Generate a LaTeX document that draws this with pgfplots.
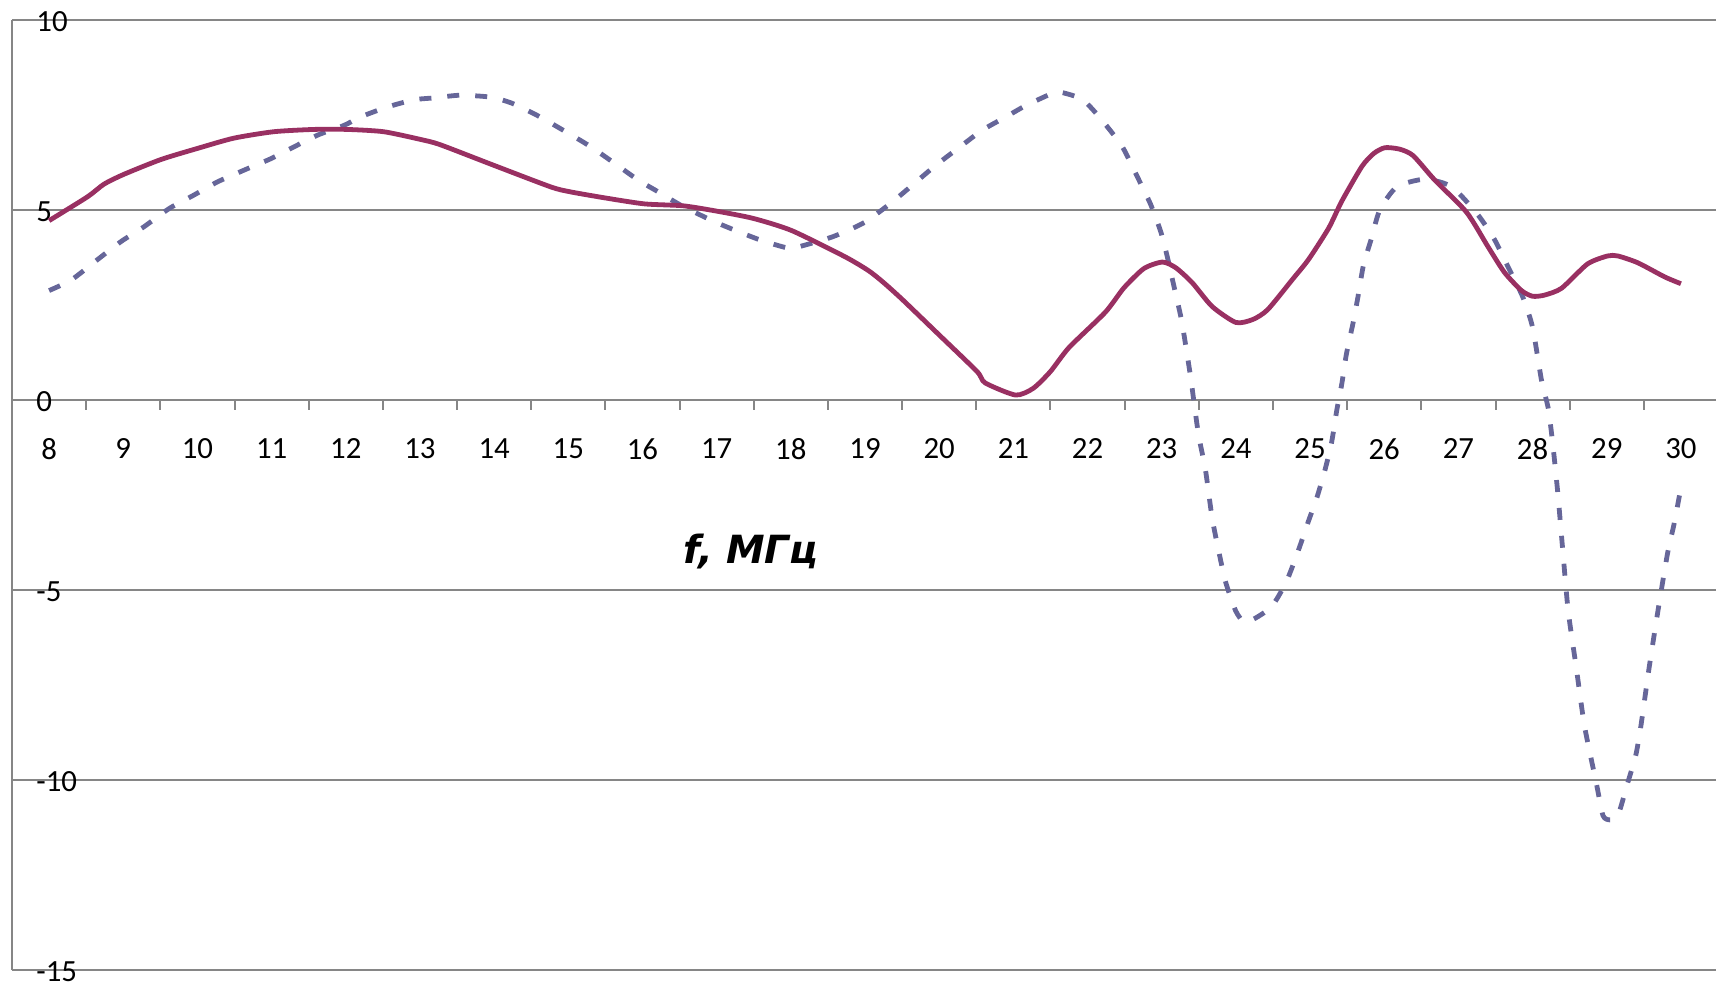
\documentclass[border=0pt]{standalone}
\usepackage{fontspec}
\setmainfont{Carlito}
\newfontfamily\labelfont{DejaVu Sans}
\usepackage{pgfplots}
\pgfplotsset{compat=1.18}
\definecolor{solidc}{RGB}{153,48,98}
\definecolor{dashc}{RGB}{102,102,153}
\definecolor{gridc}{RGB}{134,134,134}
\begin{document}
\begin{tikzpicture}
\path[use as bounding box] (-6pt,-7.5pt) rectangle (852pt,485pt);
\begin{axis}[
  at={(0pt,0pt)}, anchor=south west,
  scale only axis, width=853pt, height=475pt,
  xmin=7.5, xmax=30.5, ymin=-15, ymax=10,
  axis x line=middle, axis y line=left,
  axis line style={-, draw=gridc, line width=1pt},
  hide obscured x ticks=false, hide obscured y ticks=false,
  xtick={8,9,...,30},
  xticklabels={8,9,10,11,12,13,14,15,16,17,18,19,20,21,22,23,24,25,26,27,28,29,30},
  minor xtick={8.5,9.5,...,29.5},
  ytick={-15,-10,...,10},
  yticklabels={-15,-10,-5,0,5,10},
  minor ytick={-15,-10,...,10},
  major tick length=0pt, minor tick length=5pt,
  tick align=center,
  xtick style={draw=gridc, line width=1pt, yshift=-2.5pt},
  ytick style={draw=gridc, line width=1pt, xshift=2.5pt},
  ymajorgrids, grid style={draw=gridc, line width=1pt},
  xticklabel style={anchor=north, inner sep=0pt, yshift=-19pt, font=\fontsize{15.4}{18}\selectfont},
  yticklabel style={anchor=west, inner sep=0pt, xshift=12pt, yshift=-1pt, font=\fontsize{15.4}{18}\selectfont},
  clip=false,
]
\addplot[dashc, line width=2.4pt, dash pattern=on 6pt off 8pt, smooth, tension=0.4] coordinates {
(8.0,2.88) (8.3,3.16) (8.65,3.69) (8.97,4.17) (9.28,4.56) (9.62,5.04) (9.95,5.39)
(10.27,5.74) (10.63,6.05) (10.99,6.35) (11.26,6.62) (11.62,6.97) (11.98,7.23)
(12.20,7.45) (12.56,7.71) (12.92,7.90) (13.19,7.95) (13.54,8.02) (13.95,7.97)
(14.24,7.81) (14.58,7.49) (14.93,7.10) (15.29,6.68) (15.63,6.22) (15.94,5.79)
(16.21,5.48) (16.55,5.09) (17.02,4.65) (17.56,4.23) (17.98,3.99) (18.16,4.06)
(18.57,4.30) (18.99,4.67) (19.36,5.20) (19.63,5.64) (19.95,6.17) (20.28,6.66)
(20.58,7.10) (20.89,7.44) (21.16,7.74) (21.50,8.05) (21.61,8.11) (21.93,7.91)
(22.20,7.35) (22.47,6.66) (22.67,5.88) (22.85,5.15) (22.99,4.41) (23.08,3.73)
(23.17,2.95) (23.26,2.17) (23.32,1.48) (23.39,0.60) (23.44,-0.13) (23.50,-0.96)
(23.59,-1.84) (23.68,-3.11) (23.77,-3.99) (23.86,-4.78) (24.0,-5.56) (24.14,-5.85)
(24.47,-5.46) (24.68,-4.78) (24.84,-3.97) (24.98,-3.18) (25.09,-2.58) (25.20,-1.85)
(25.29,-1.12) (25.36,-0.27) (25.43,0.45) (25.49,1.21) (25.58,2.03) (25.65,2.76)
(25.72,3.55) (25.83,4.27) (25.94,5.0) (26.17,5.61) (26.55,5.81) (26.91,5.61)
(27.26,4.88) (27.49,4.21) (27.69,3.42) (27.87,2.70) (28.0,1.91) (28.12,0.52)
(28.21,-0.21) (28.27,-1.12) (28.34,-2.45) (28.41,-4.03) (28.48,-5.55) (28.59,-7.06)
(28.70,-8.58) (28.86,-10.09) (28.95,-10.94) (29.05,-11.05) (29.15,-10.94) (29.28,-10.09)
(29.39,-9.36) (29.46,-8.58) (29.57,-7.06) (29.69,-5.55) (29.82,-4.03) (29.91,-3.24)
(30.0,-2.3)
};
\addplot[solidc, line width=2.4pt, smooth, tension=0.4] coordinates {
(8.0,4.72) (8.52,5.35) (8.74,5.68) (9.01,5.94) (9.51,6.33) (10.0,6.62) (10.49,6.89)
(11.03,7.06) (11.57,7.12) (12.02,7.12) (12.51,7.06) (13.0,6.86) (13.27,6.72)
(13.99,6.18) (14.76,5.61) (15.02,5.48) (15.52,5.31) (16.03,5.16) (16.55,5.11)
(17.0,4.97) (17.49,4.78) (18.01,4.46) (18.73,3.77) (19.05,3.40) (19.25,3.09)
(19.50,2.65) (19.99,1.73) (20.51,0.75) (20.62,0.45) (21.03,0.13) (21.27,0.31)
(21.50,0.75) (21.75,1.38) (22.24,2.31) (22.49,2.95) (22.76,3.46) (23.01,3.63)
(23.19,3.48) (23.41,3.09) (23.68,2.46) (24.0,2.04) (24.23,2.12) (24.43,2.38)
(24.77,3.19) (24.98,3.70) (25.25,4.52) (25.43,5.24) (25.70,6.15) (25.86,6.49)
(26.01,6.64) (26.21,6.60) (26.39,6.43) (26.68,5.79) (27.11,4.94) (27.40,4.03)
(27.62,3.36) (27.85,2.88) (28.0,2.73) (28.16,2.76) (28.39,2.94) (28.74,3.58)
(29.01,3.79) (29.15,3.79) (29.42,3.61) (29.78,3.24) (30.0,3.06)
};
\node[font=\labelfont\bfseries\itshape\fontsize{19.4}{23}\selectfont, anchor=base, inner sep=0pt] at (axis cs:17.46,-4.29) {f, МГц};
\end{axis}
\end{tikzpicture}
\end{document}
